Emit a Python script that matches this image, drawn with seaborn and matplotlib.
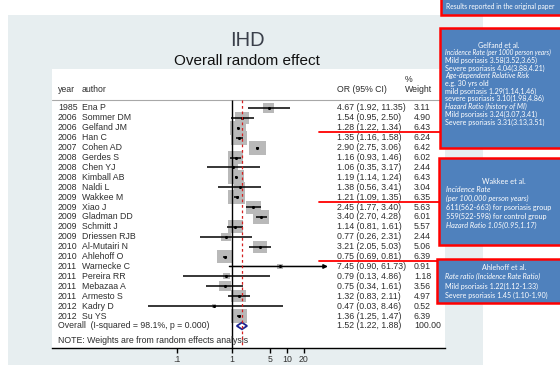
import matplotlib
matplotlib.use("Agg")
import matplotlib.pyplot as plt
import matplotlib.transforms as mtransforms
from matplotlib.patches import Rectangle
from matplotlib.lines import Line2D
from matplotlib.ticker import NullLocator
import numpy as np
import pandas as pd
import seaborn as sns

# ---- study data -------------------------------------------------------------
years = [1985, 2006, 2006, 2006, 2007, 2008, 2008, 2008, 2008, 2009, 2009,
         2009, 2009, 2009, 2010, 2010, 2011, 2011, 2011, 2011, 2012, 2012]
authors = ["Ena P", "Sommer DM", "Gelfand JM", "Han C", "Cohen AD", "Gerdes S",
           "Chen YJ", "Kimball AB", "Naldi L", "Wakkee M", "Xiao J",
           "Gladman DD", "Schmitt J", "Driessen RJB", "Al-Mutairi N",
           "Ahlehoff O", "Warnecke C", "Pereira RR", "Mebazaa A", "Armesto S",
           "Kadry D", "Su YS"]
odds_ratio = [4.67, 1.54, 1.28, 1.35, 2.90, 1.16, 1.06, 1.19, 1.38, 1.21, 2.45,
              3.40, 1.14, 0.77, 3.21, 0.75, 7.45, 0.79, 0.75, 1.32, 0.47, 1.36]
ci_low = [1.92, 0.95, 1.22, 1.16, 2.75, 0.93, 0.35, 1.14, 0.56, 1.09, 1.77,
          2.70, 0.81, 0.26, 2.05, 0.69, 0.90, 0.13, 0.34, 0.83, 0.03, 1.25]
ci_high = [11.35, 2.50, 1.34, 1.58, 3.06, 1.46, 3.17, 1.24, 3.41, 1.35, 3.40,
           4.28, 1.61, 2.31, 5.03, 0.81, 61.73, 4.86, 1.61, 2.11, 8.46, 1.47]
weights = [3.11, 4.90, 6.43, 6.24, 6.42, 6.02, 2.44, 6.43, 3.04, 6.35, 5.63,
           6.01, 5.57, 2.44, 5.06, 6.39, 0.91, 1.18, 3.56, 4.97, 0.52, 6.39]

pooled_or, pooled_low, pooled_high, pooled_weight = 1.52, 1.22, 1.88, 100.00
i_squared, p_value = 98.1, 0.000

tick_values = [0.1, 1, 5, 10, 20]
tick_labels = [".1", "1", "5", "10", "20"]

# side notes on selected studies
note_header = "Results reported in the original paper"
gelfand_title = "Gelfand et al."
gelfand_lines = [("Incidence Rate (per 1000 person years)", True),
                 ("Mild psoriasis 3.58(3.52,3.65)", False),
                 ("Severe psoriasis 4.04(3.88,4.21)", False),
                 ("Age-dependent Relative Risk", True),
                 ("e.g. 30 yrs old", False),
                 ("mild psoriasis 1.29(1.14,1.46)", False),
                 ("severe psoriasis 3.10(1.98,4.86)", False),
                 ("Hazard Ratio (history of MI)", True),
                 ("Mild psoriasis 3.24(3.07,3.41)", False),
                 ("Severe psoriasis 3.31(3.13,3.51)", False)]
wakkee_title = "Wakkee et al."
wakkee_lines = [("Incidence Rate", True),
                ("(per 100,000 person years)", True),
                ("611(562-663) for psoriasis group", False),
                ("559(522-598) for control group", False),
                ("Hazard Ratio 1.05(0.95,1.17)", True)]
ahlehoff_title = "Ahlehoff et al."
ahlehoff_lines = [("Rate ratio (Incidence Rate Ratio)", True),
                  ("Mild psoriasis 1.22(1.12-1.33)", False),
                  ("Severe psoriasis 1.45 (1.10-1.90)", False)]

df = pd.DataFrame({"year": years, "author": authors, "or": odds_ratio,
                   "lo": ci_low, "hi": ci_high, "weight": weights})
df["row"] = np.arange(len(df))
n = len(df)

# ---- figure geometry (pixels) ----------------------------------------------
W, H, DPI = 560, 372, 100
ROW = 9.905           # px between study rows
Y0 = 108              # px of first study row
X_ONE = 232           # px of OR = 1
DEC = 55              # px per decade
AX_L, AX_R, AX_T, AX_B = 52, 445, 69, 348

sns.set_theme(style="white")
plt.rcParams["font.family"] = ["Liberation Sans", "DejaVu Sans"]

fig = plt.figure(figsize=(W / DPI, H / DPI), dpi=DPI)
fig.patch.set_facecolor("white")


def fx(px):
    return px / W


def fy(py):
    return 1 - py / H


def row_of(py):
    return (py - Y0) / ROW


# light backdrop panel
fig.patches.append(Rectangle((fx(8), fy(365)), fx(483) - fx(8), (365 - 15) / H,
                             transform=fig.transFigure, facecolor="#e7eef0",
                             edgecolor="none", zorder=-1))

ax = fig.add_axes([fx(AX_L), fy(AX_B), (AX_R - AX_L) / W, (AX_B - AX_T) / H])
ax.set_zorder(1)
ax.set_facecolor("white")
ax.set_xscale("log")
ax.set_xlim(10 ** ((AX_L - X_ONE) / DEC), 10 ** ((AX_R - X_ONE) / DEC))
ax.set_ylim(row_of(AX_B), row_of(AX_T))

x_clip = 10 ** ((328 - X_ONE) / DEC)
header_row = row_of(100)

# weighted study boxes
box_marker = np.array([[-1.18, -1.0], [1.18, -1.0], [1.18, 1.0], [-1.18, 1.0]])
k = 21.5
sns.scatterplot(data=df, x="or", y="row", size="weight",
                sizes=(k * df["weight"].min(), k * df["weight"].max()),
                marker=box_marker, color="#b9b9b9", linewidth=0,
                legend=False, ax=ax, zorder=2)

# confidence intervals
inside = df[df["hi"] <= x_clip]
ax.hlines(inside["row"], inside["lo"], inside["hi"], color="black",
          lw=1.1, zorder=3)
for _, r in df[df["hi"] > x_clip].iterrows():
    ax.annotate("", xy=(x_clip, r["row"]), xytext=(r["lo"], r["row"]),
                arrowprops=dict(arrowstyle="-|>", lw=1.1, color="black",
                                mutation_scale=6, shrinkA=0, shrinkB=0),
                zorder=3)

# point estimates
sns.scatterplot(data=df, x="or", y="row", color="black", s=5, marker="o",
                linewidth=0, legend=False, ax=ax, zorder=4)

# pooled estimate diamond
pr = n
ax.fill([pooled_low, pooled_or, pooled_high, pooled_or],
        [pr, pr - 0.34, pr, pr + 0.34], facecolor="white",
        edgecolor="#1c2490", lw=1.3, zorder=3)

# reference lines
ax.vlines(1, header_row, row_of(AX_B), color="black", lw=1.0, zorder=2.5)
ax.vlines(pooled_or, header_row, row_of(AX_B), color="#d42020", lw=0.9,
          linestyles=(0, (2.2, 2.2)), zorder=5)
ax.axhline(header_row, color="#a8a8a8", lw=0.8, zorder=1)

# axes styling
for side in ["top", "left", "right"]:
    ax.spines[side].set_visible(False)
ax.spines["bottom"].set_color("black")
ax.spines["bottom"].set_linewidth(1.0)
ax.set_yticks([])
ax.set_xticks(tick_values)
ax.set_xticklabels(tick_labels)
ax.xaxis.set_minor_locator(NullLocator())
ax.tick_params(axis="x", direction="out", length=3.5, width=1.0,
               labelsize=6.3, pad=1.5, colors="black", labelcolor="#333333",
               bottom=True)
ax.set_xlabel("")
ax.set_ylabel("")

# text columns
tr = mtransforms.blended_transform_factory(fig.transFigure, ax.transData)
FS = 6.3
TXT = "#2e2e2e"
txt = dict(transform=tr, va="center", ha="left", fontsize=FS, color=TXT,
           zorder=4)
X_YEAR, X_AUTH, X_OR, X_WT = fx(58), fx(82), fx(337), fx(414)

ax.text(X_YEAR, row_of(89), "year", **txt)
ax.text(X_AUTH, row_of(89), "author", **txt)
ax.text(X_OR, row_of(89), "OR (95% CI)", **txt)
ax.text(fx(405), row_of(79), "%", **txt)
ax.text(fx(405), row_of(89), "Weight", **txt)

for _, r in df.iterrows():
    ax.text(X_YEAR, r["row"], f"{r['year']}", **txt)
    ax.text(X_AUTH, r["row"], r["author"], **txt)
    ax.text(X_OR, r["row"], f"{r['or']:.2f} ({r['lo']:.2f}, {r['hi']:.2f})", **txt)
    ax.text(X_WT, r["row"], f"{r['weight']:.2f}", **txt)

ax.text(X_YEAR, pr, f"Overall  (I-squared = {i_squared:.1f}%, p = {p_value:.3f})", **txt)
ax.text(X_OR, pr, f"{pooled_or:.2f} ({pooled_low:.2f}, {pooled_high:.2f})", **txt)
ax.text(X_WT, pr, f"{pooled_weight:.2f}", **txt)
ax.text(X_YEAR, row_of(340.5), "NOTE: Weights are from random effects analysis", **txt)

# titles
fig.text(fx(247), fy(40), "IHD", ha="center", va="center", fontsize=14.5,
         color="#3a3f4a")
fig.text(fx(247), fy(61), "Overall random effect", ha="center", va="center",
         fontsize=11, color="#111111")

# annotation boxes
BLUE = "#4f81bd"
NOTE_FONT = ["Lato", "DejaVu Sans"]


def note_box(left, top, bottom):
    fig.patches.append(Rectangle((fx(left), fy(bottom)), fx(580) - fx(left),
                                 (bottom - top) / H, transform=fig.transFigure,
                                 facecolor=BLUE, edgecolor="#ff0000", lw=1.8,
                                 zorder=6))


def note_text(title, lines, left, title_y, step, size, cx, first_size=None):
    fig.text(fx(cx), fy(title_y), title, ha="center", va="center",
             fontsize=size, color="white", family=NOTE_FONT, zorder=7)
    for j, (s, italic) in enumerate(lines):
        fs = first_size if (j == 0 and first_size) else size
        fig.text(fx(left), fy(title_y + step * (j + 1)), s, ha="left",
                 va="center", fontsize=fs, color="white",
                 style="italic" if italic else "normal",
                 family=NOTE_FONT, zorder=7)


note_box(441, -6, 15)
fig.text(fx(446), fy(6.5), note_header, ha="left", va="center", fontsize=4.8,
         color="white", family=NOTE_FONT, zorder=7)

note_box(440, 28, 148)
note_text(gelfand_title, gelfand_lines, 445, 45, 7.7, 5.1, 499, first_size=4.7)

note_box(439, 158, 245)
note_text(wakkee_title, wakkee_lines, 446, 181, 8.8, 5.2, 504)

note_box(437, 259, 303)
note_text(ahlehoff_title, ahlehoff_lines, 445, 267.5, 9.3, 5.1, 504)

# red leaders from highlighted studies to their notes
for name, box_left in [("Gelfand JM", 440), ("Wakkee M", 439), ("Ahlehoff O", 437)]:
    r = df.loc[df["author"] == name, "row"].iloc[0]
    fig.add_artist(Line2D([fx(319), fx(box_left)], [r + 0.45, r + 0.45],
                          transform=tr, color="#ff0000", lw=1.3, zorder=6))

fig.savefig("out.png", dpi=DPI, facecolor="white")
